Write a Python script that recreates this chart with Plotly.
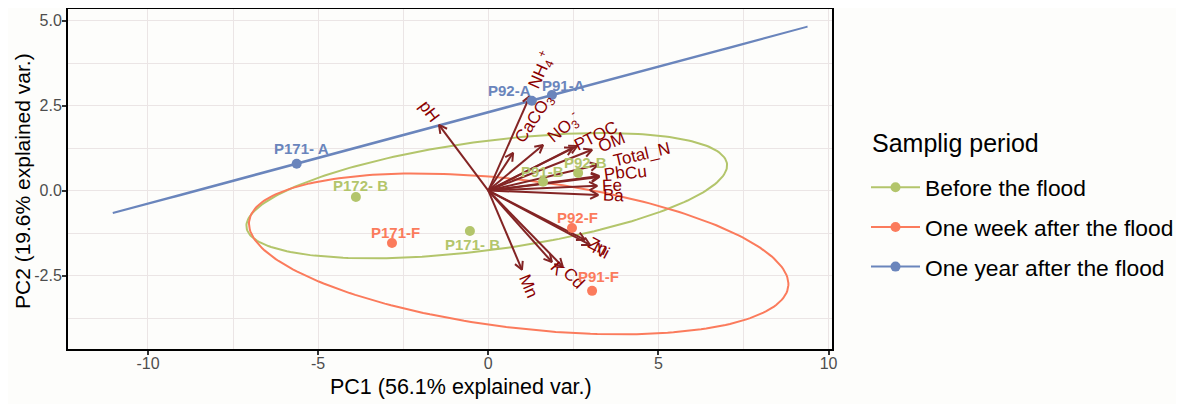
import re
import numpy as np
import plotly.graph_objects as go

# ---------------- data ----------------
sample_names = ["P171- A", "P92-A", "P91-A",
                "P172- B", "P171- B", "P91-B", "P92-B",
                "P171-F", "P92-F", "P91-F"]
pc1 = [-5.63, 1.28, 1.87,
       -3.89, -0.54, 1.61, 2.64,
       -2.83, 2.46, 3.05]
pc2 = [0.79, 2.64, 2.81,
       -0.19, -1.19, 0.26, 0.52,
       -1.54, -1.10, -2.95]
sample_group = ["One year after the flood"] * 3 + ["Before the flood"] * 4 + ["One week after the flood"] * 3

group_names = ["Before the flood", "One week after the flood", "One year after the flood"]
legend_title = "Samplig period"
x_title = "PC1 (56.1% explained var.)"
y_title = "PC2 (19.6% explained var.)"

var_names = ["pH", "NH<sub>4</sub><sup>+</sup>", "CaCO<sub>3</sub>", "NO<sub>3</sub><sup>-</sup>",
             "P", "TOC", "OM", "Total_N", "Pb", "Cu", "Fe", "Ba",
             "Zn", "Ni", "K", "Cd", "Mn"]
load1 = [-1.45, 1.22, 0.73, 1.61, 2.49, 2.61, 3.05, 3.23, 3.26, 3.26, 3.20, 3.23,
         2.84, 2.99, 1.87, 2.19, 0.99]
load2 = [1.93, 2.78, 1.11, 1.34, 1.26, 1.31, 1.20, 0.76, 0.43, 0.40, 0.14, -0.13,
         -1.45, -1.60, -2.10, -2.24, -2.33]

x_tickvals = [-10, -5, 0, 5, 10]
x_ticktext = ["-10", "-5", "0", "5", "10"]
y_tickvals = [-2.5, 0.0, 2.5, 5.0]
y_ticktext = ["-2.5", "0.0", "2.5", "5.0"]

ellipse_prob = 0.95

# ---------------- style / layout ----------------
W, H = 1184, 404
OFF = 8                       # page body margin offset of the figure div
P_L, P_R, P_T, P_B = 68, 832, 9, 349   # desired plot-area edges in page px
ML = P_L - OFF
MT = P_T - OFF
MR = W - (P_R - OFF)
MB = H - (P_B - OFF)
PW = P_R - P_L
PH = P_B - P_T
XR = [-12.35, 10.1]
YR = [-4.66, 5.34]
KX = PW / (XR[1] - XR[0])   # px per unit
KY = PH / (YR[1] - YR[0])


def px_paper(px, py):
    return (px - P_L) / PW, 1 - (py - P_T) / PH


colors = {"Before the flood": "#b3c56b",
          "One week after the flood": "#fb7b5c",
          "One year after the flood": "#6a85bc"}
arrow_col = "#832424"
vlabel_col = "#8b0000"
FONT = "Liberation Sans, Arial, sans-serif"
VFS = 17   # variable label font size
PFS = 15   # point label font size

# point label offsets (px): dx, dy (up positive)
plabel_dx = [5, -22, 12, 5, 3, -1, 7, 4, 5, 6]
plabel_dy = [15, 10, 10, 12, -13, 10, 10, 10, 10, 14]

# continuation of coincident labels (label drawn right after another)
label_after = {"Cu": "Pb"}

# ---------------- helpers ----------------
CW = {'A': 667, 'B': 667, 'C': 722, 'D': 722, 'E': 667, 'F': 611, 'G': 778, 'H': 722, 'I': 278,
      'K': 667, 'L': 556, 'M': 833, 'N': 722, 'O': 778, 'P': 667, 'T': 611, 'Z': 611,
      'a': 556, 'b': 556, 'c': 500, 'd': 556, 'e': 556, 'f': 278, 'g': 556, 'h': 556, 'i': 222,
      'k': 500, 'l': 222, 'm': 833, 'n': 556, 'o': 556, 'p': 556, 'r': 333, 's': 500, 't': 278,
      'u': 556, '_': 556, '+': 584, '-': 333}


def text_width(html, fs):
    w = 0.0
    for m in re.finditer(r"<(sub|sup)>(.*?)</\1>|([^<]+)", html):
        if m.group(3):
            w += sum(CW.get(c, 556) for c in m.group(3)) * fs / 1000
        else:
            w += sum(CW.get(c, 556) for c in m.group(2)) * fs * 0.7 / 1000
    return w


def ellipse(xs, ys, prob, n=240):
    pts = np.column_stack([xs, ys])
    mu = pts.mean(axis=0)
    sigma = np.cov(pts.T)
    ed = np.sqrt(-2 * np.log(1 - prob))   # chi-square (df=2) quantile
    vals, vecs = np.linalg.eigh(sigma)
    A = vecs @ np.diag(np.sqrt(np.clip(vals, 0, None)))
    th = np.linspace(-np.pi, np.pi, n)
    circ = np.column_stack([np.cos(th), np.sin(th)])
    e = circ @ A.T * ed + mu
    return e[:, 0], e[:, 1]


fig = go.Figure()

# ellipses
for g in group_names:
    xs = [x for x, gg in zip(pc1, sample_group) if gg == g]
    ys = [y for y, gg in zip(pc2, sample_group) if gg == g]
    ex, ey = ellipse(xs, ys, ellipse_prob)
    fig.add_trace(go.Scatter(x=ex, y=ey, mode="lines", line=dict(color=colors[g], width=2),
                             showlegend=False, hoverinfo="skip", legendgroup=g))

# arrows (shaft + open head)
ax_, ay_ = [], []
HL, HA = 9.0, np.deg2rad(28)
for vx, vy in zip(load1, load2):
    ax_ += [0, vx, None]
    ay_ += [0, vy, None]
    px, py = vx * KX, vy * KY
    L = np.hypot(px, py)
    ux, uy = px / L, py / L
    pts = []
    for s in (1, -1):
        c, sn = np.cos(s * HA), np.sin(s * HA)
        rx, ry = ux * c - uy * sn, ux * sn + uy * c
        pts.append((vx - HL * rx / KX, vy - HL * ry / KY))
    ax_ += [pts[0][0], vx, pts[1][0], None]
    ay_ += [pts[0][1], vy, pts[1][1], None]
fig.add_trace(go.Scatter(x=ax_, y=ay_, mode="lines", line=dict(color=arrow_col, width=2),
                         showlegend=False, hoverinfo="skip"))

# points
for g in group_names:
    xs = [x for x, gg in zip(pc1, sample_group) if gg == g]
    ys = [y for y, gg in zip(pc2, sample_group) if gg == g]
    fig.add_trace(go.Scatter(x=xs, y=ys, mode="markers", marker=dict(color=colors[g], size=10),
                             showlegend=False, legendgroup=g))

# legend entries
for g in group_names:
    fig.add_trace(go.Scatter(x=[None], y=[None], mode="lines+markers", name=g, legendgroup=g,
                             line=dict(color=colors[g], width=2),
                             marker=dict(color=colors[g], size=10)))

# variable labels (ggbiplot style: rotated along arrow, starting just beyond tip)
widths = {name: text_width(name, VFS) for name in var_names}
for name, vx, vy in zip(var_names, load1, load2):
    px, py = vx * KX, vy * KY
    L = np.hypot(px, py)
    ux, uy = px / L, py / L           # outward direction
    ang = np.degrees(np.arctan(vy / vx))
    w = widths[name]
    off = 0.75 * w
    if name in label_after:
        off = 0.25 * widths[label_after[name]] + widths[label_after[name]] + 0.5 * w
    cx = vx + off * ux / KX
    cy = vy + off * uy / KY
    fig.add_annotation(x=cx, y=cy, text=name, showarrow=False, textangle=-ang,
                       xanchor="center", yanchor="middle",
                       font=dict(size=VFS, color=vlabel_col, family=FONT))

# point labels
for nm, x, y, g, dx, dy in zip(sample_names, pc1, pc2, sample_group, plabel_dx, plabel_dy):
    fig.add_annotation(x=x, y=y, text="<b>%s</b>" % nm, showarrow=False,
                       xshift=dx, yshift=dy, xanchor="center", yanchor="middle",
                       font=dict(size=PFS, color=colors[g], family=FONT))

# legend title and axis titles
lx, ly = px_paper(870, 143)
fig.add_annotation(xref="paper", yref="paper", x=lx, y=ly, xanchor="left", yanchor="middle",
                   showarrow=False, text=legend_title, font=dict(size=25, family=FONT, color="black"))
tx, ty = px_paper(461, 387)
fig.add_annotation(xref="paper", yref="paper", x=tx, y=ty, xanchor="center", yanchor="middle",
                   showarrow=False, text=x_title, font=dict(size=21.5, family=FONT, color="black"))
tx, ty = px_paper(22, 181)
fig.add_annotation(xref="paper", yref="paper", x=tx, y=ty, xanchor="center", yanchor="middle",
                   showarrow=False, text=y_title, textangle=-90,
                   font=dict(size=21, family=FONT, color="black"))

leg_x, leg_y = px_paper(866, 166)
grid_col = "#ebe5e5"
fig.update_layout(
    width=W, height=H,
    margin=dict(l=ML, r=MR, t=MT, b=MB, autoexpand=False),
    paper_bgcolor="#fdfdfb", plot_bgcolor="#fdfdfb",
    font=dict(family=FONT, color="black"),
    showlegend=True,
    legend=dict(x=leg_x, y=leg_y,
                xanchor="left", yanchor="top", itemwidth=49,
                font=dict(size=22.8, family=FONT, color="black"),
                tracegroupgap=7, bgcolor="rgba(0,0,0,0)", traceorder="grouped"),
    xaxis=dict(range=XR, tickvals=x_tickvals, ticktext=x_ticktext, automargin=False,
               showgrid=True, gridcolor=grid_col, gridwidth=1.3, zeroline=False,
               minor=dict(dtick=2.5, tick0=0, showgrid=True, gridcolor=grid_col, gridwidth=1),
               showline=True, linecolor="black", linewidth=2, mirror=True,
               ticks="outside", ticklen=4, tickwidth=1.5, tickcolor="#333333",
               ticklabelstandoff=-5,
               tickfont=dict(size=16, color="#4d4d4d", family=FONT)),
    yaxis=dict(range=YR, tickvals=y_tickvals, ticktext=y_ticktext, automargin=False,
               showgrid=True, gridcolor=grid_col, gridwidth=1.3, zeroline=False,
               minor=dict(dtick=1.25, tick0=0, showgrid=True, gridcolor=grid_col, gridwidth=1),
               showline=True, linecolor="black", linewidth=2, mirror=True,
               ticks="outside", ticklen=4, tickwidth=1.5, tickcolor="#333333",
               ticklabelstandoff=-3,
               tickfont=dict(size=16, color="#4d4d4d", family=FONT)),
)

fig.write_html("out.html")
